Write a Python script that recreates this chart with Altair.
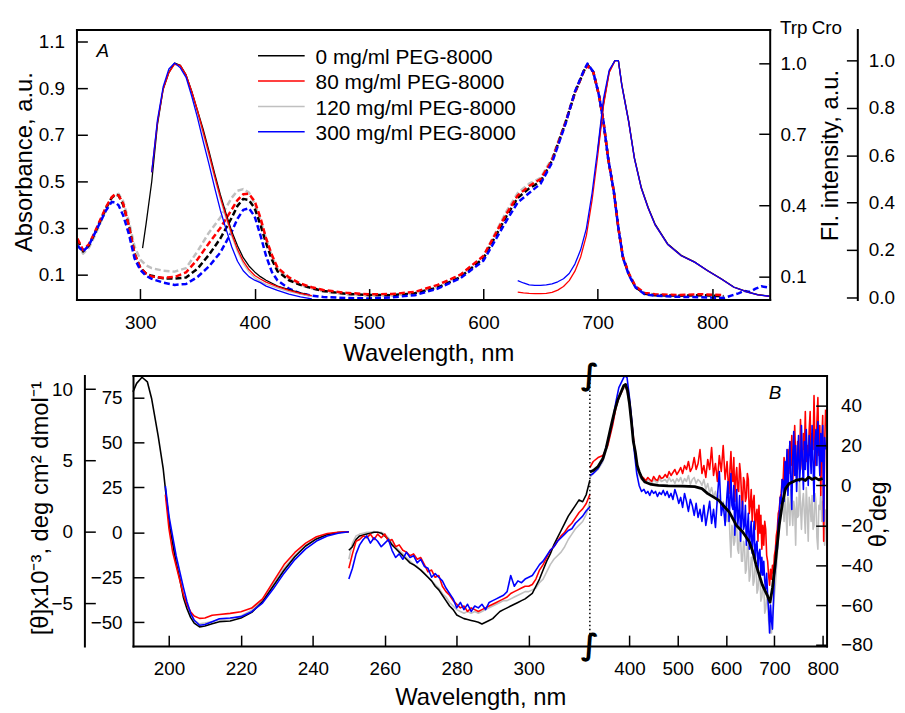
import altair as alt
import pandas as pd

W, H = 896, 704
FONT = "Liberation Sans"

SERIES = ["0 mg/ml PEG-8000", "80 mg/ml PEG-8000", "120 mg/ml PEG-8000", "300 mg/ml PEG-8000"]
COLORS = ["#000000", "#ff0000", "#c0c0c0", "#0000ff"]

# ---------------- Panel A: absorbance (dashed) ----------------
ABS_WL = [245, 250, 255, 260, 265, 270, 275, 278, 281, 285, 290, 295, 300, 305, 310, 320, 330, 340, 350, 360,
          370, 380, 385, 390, 395, 400, 405, 410, 415, 420, 430, 440, 450, 460, 480, 500, 520, 540, 560, 580,
          600, 620, 630, 640, 650, 660, 672, 680, 688, 691, 696, 701, 705, 709, 714, 718, 722, 727, 733, 741,
          750, 770, 790, 810]
ABS_BLACK = [0.25, 0.20, 0.225, 0.275, 0.33, 0.385, 0.43, 0.443, 0.44, 0.40, 0.31, 0.19, 0.13, 0.105, 0.095, 0.084, 0.083, 0.088, 0.125, 0.185,
             0.255, 0.345, 0.395, 0.425, 0.42, 0.385, 0.315, 0.235, 0.165, 0.115, 0.076, 0.056, 0.042, 0.03, 0.018, 0.013, 0.012, 0.02, 0.045, 0.09,
             0.17, 0.35, 0.43, 0.47, 0.50, 0.59, 0.755, 0.88, 0.975, 1.0, 0.97, 0.87, 0.755, 0.60, 0.457, 0.30, 0.174, 0.103, 0.046, 0.018,
             0.012, 0.01, 0.012, 0.008]
ABS_RED = [0.255, 0.205, 0.23, 0.28, 0.335, 0.39, 0.432, 0.445, 0.44, 0.405, 0.31, 0.19, 0.13, 0.105, 0.092, 0.087, 0.09, 0.11, 0.165, 0.235,
           0.30, 0.38, 0.42, 0.445, 0.447, 0.415, 0.345, 0.255, 0.185, 0.13, 0.088, 0.062, 0.046, 0.034, 0.022, 0.016, 0.017, 0.026, 0.056, 0.10,
           0.18, 0.36, 0.44, 0.48, 0.51, 0.59, 0.755, 0.88, 0.975, 0.995, 0.97, 0.87, 0.755, 0.60, 0.457, 0.30, 0.176, 0.106, 0.05, 0.022,
           0.016, 0.013, 0.016, 0.012]
ABS_GRAY = [0.23, 0.19, 0.215, 0.265, 0.32, 0.38, 0.43, 0.44, 0.447, 0.415, 0.33, 0.22, 0.165, 0.14, 0.128, 0.117, 0.113, 0.128, 0.20, 0.28,
            0.345, 0.43, 0.46, 0.467, 0.452, 0.405, 0.335, 0.255, 0.18, 0.125, 0.082, 0.056, 0.04, 0.028, 0.015, 0.01, 0.01, 0.02, 0.05, 0.10,
            0.18, 0.37, 0.45, 0.49, 0.515, 0.60, 0.76, 0.885, 0.975, 1.0, 0.97, 0.87, 0.755, 0.60, 0.457, 0.30, 0.178, 0.108, 0.05, 0.02,
            0.015, 0.01, 0.01, 0.006]
ABS_BLUE = [0.225, 0.20, 0.225, 0.275, 0.325, 0.375, 0.412, 0.41, 0.398, 0.355, 0.275, 0.17, 0.12, 0.095, 0.082, 0.066, 0.056, 0.06, 0.09, 0.135,
            0.195, 0.285, 0.34, 0.378, 0.385, 0.35, 0.27, 0.18, 0.112, 0.075, 0.04, 0.02, 0.01, 0.004, 0.0, -0.002, 0.003, 0.012, 0.04, 0.085,
            0.16, 0.33, 0.41, 0.45, 0.49, 0.58, 0.75, 0.885, 0.978, 1.005, 0.97, 0.87, 0.755, 0.60, 0.457, 0.30, 0.172, 0.10, 0.045, 0.016,
            0.01, 0.005, 0.003, 0.0]
ABS_TAIL_WL = [818, 823, 828, 833, 838, 843, 848, 850]
ABS_TAIL_BLUE = [0.012, 0.02, 0.03, 0.026, 0.04, 0.05, 0.046, 0.055]

# ---------------- Panel A: Trp emission ----------------
TRP_WL_BK = [302, 305, 310, 315, 320, 325, 330, 335, 340, 345, 350, 355, 360, 365, 370, 375, 380, 385, 390, 395,
             400, 405, 410, 420, 430, 440, 446]
TRP_BLACK = [0.22, 0.32, 0.50, 0.74, 0.89, 0.96, 1.0, 0.99, 0.95, 0.88, 0.80, 0.72, 0.63, 0.535, 0.445, 0.365, 0.29, 0.23, 0.18, 0.145,
             0.12, 0.10, 0.085, 0.06, 0.045, 0.032, 0.025]
TRP_WL = [310, 315, 320, 325, 330, 335, 340, 345, 350, 355, 360, 365, 370, 375, 380, 385, 390, 395, 400, 405,
          410, 420, 430, 440, 450]
TRP_RED = [0.54, 0.75, 0.89, 0.96, 0.995, 0.99, 0.95, 0.88, 0.80, 0.71, 0.62, 0.525, 0.435, 0.355, 0.28, 0.215, 0.165, 0.13, 0.105, 0.09,
           0.077, 0.058, 0.042, 0.03, 0.02]
TRP_GRAY = [0.54, 0.75, 0.89, 0.965, 1.0, 0.99, 0.95, 0.88, 0.79, 0.70, 0.61, 0.515, 0.425, 0.345, 0.27, 0.205, 0.155, 0.12, 0.095, 0.08,
            0.068, 0.052, 0.037, 0.026, 0.016]
TRP_BLUE = [0.54, 0.76, 0.90, 0.975, 1.0, 0.98, 0.94, 0.86, 0.77, 0.67, 0.575, 0.475, 0.38, 0.30, 0.225, 0.165, 0.125, 0.10, 0.085, 0.075,
            0.06, 0.042, 0.026, 0.015, 0.006]

# ---------------- Panel A: chromophore emission ----------------
CRO_WL = [630, 635, 640, 645, 650, 655, 660, 665, 670, 675, 680, 685, 690, 695, 700, 705, 710, 715, 718, 721,
          727, 732, 738, 744, 750, 761, 773, 785, 796, 808, 819, 831, 840, 850]
CRO_RED = [0.021, 0.018, 0.016, 0.015, 0.015, 0.016, 0.02, 0.03, 0.045, 0.07, 0.11, 0.17, 0.26, 0.41, 0.60, 0.81, 0.95, 1.0, 1.0, 0.895,
           0.741, 0.587, 0.461, 0.377, 0.307, 0.224, 0.175, 0.147, 0.112, 0.077, 0.042, 0.021, 0.01, 0.004]
CRO_BLUE = [0.07, 0.06, 0.052, 0.05, 0.05, 0.052, 0.056, 0.065, 0.078, 0.10, 0.14, 0.20, 0.29, 0.44, 0.63, 0.84, 0.96, 1.0, 1.0, 0.895,
            0.741, 0.587, 0.461, 0.377, 0.307, 0.224, 0.175, 0.147, 0.112, 0.077, 0.042, 0.021, 0.01, 0.004]
CRO_WL_BK = [700, 705, 710, 715, 718, 721, 727, 732, 738, 744, 750, 761, 773, 785, 796, 808, 819, 831, 840, 850]
CRO_BLACK = [0.62, 0.82, 0.955, 1.0, 1.0, 0.90, 0.745, 0.59, 0.465, 0.38, 0.31, 0.226, 0.177, 0.148, 0.113, 0.078, 0.043, 0.022, 0.011, 0.004]
CRO_GRAY = [0.61, 0.815, 0.95, 1.0, 1.0, 0.895, 0.74, 0.585, 0.46, 0.376, 0.306, 0.222, 0.174, 0.146, 0.111, 0.076, 0.041, 0.02, 0.01, 0.003]

# ---------------- Panel B: far-UV CD ([theta] x 10^-3) ----------------
FAR_WL_BK = [190, 191, 192.5, 194, 195.2, 197, 198.4, 199.3, 200.3, 201, 202, 203, 204, 205, 206, 207, 208.5, 210, 212, 214,
             217, 220, 223, 226, 229, 232, 235, 238, 241, 244, 247, 250]
FAR_BLACK = [9.8, 10.4, 10.83, 10.5, 9.3, 6.7, 4.4, 2.3, 0.2, -0.8, -2.2, -3.3, -4.6, -5.4, -6.0, -6.4, -6.67, -6.6, -6.45, -6.3,
             -6.25, -6.05, -5.65, -4.9, -3.8, -2.7, -1.75, -1.0, -0.5, -0.2, -0.05, 0]
FAR_WL = [199, 200, 201, 202, 203, 204, 205, 206, 207, 208.5, 210, 212, 214, 217, 220, 223, 226, 229, 232, 235,
          238, 241, 244, 247, 250]
FAR_RED = [2.6, 0.2, -1.4, -2.4, -3.4, -4.4, -5.1, -5.6, -5.9, -6.07, -6.05, -5.85, -5.8, -5.72, -5.6, -5.35, -4.7, -3.5, -2.3, -1.45,
           -0.8, -0.35, -0.12, -0.03, 0]
FAR_GRAY = [3.0, 0.9, -0.6, -2.2, -3.2, -4.4, -5.2, -5.8, -6.2, -6.45, -6.4, -6.3, -6.15, -6.1, -5.9, -5.5, -4.75, -3.65, -2.55, -1.65,
            -0.95, -0.48, -0.19, -0.05, 0]
FAR_BLUE = [3.2, 1.1, -0.3, -1.7, -2.8, -3.9, -4.9, -5.7, -6.2, -6.55, -6.5, -6.3, -6.1, -6.05, -5.95, -5.6, -5.0, -4.0, -2.9, -1.95,
            -1.2, -0.65, -0.3, -0.1, 0]

# ---------------- Panel B: near-UV CD ----------------
NEAR_WL = [250, 251, 252, 253, 254, 255, 256, 257, 258, 259, 260, 261, 262, 263, 264, 265, 266, 267, 268, 269,
           270, 271, 272, 273, 274, 275, 276, 277, 278, 279, 280, 281, 282, 283, 284, 285, 286, 287, 288, 289,
           290, 291, 292, 293, 294, 295, 296, 297, 298, 299, 300, 301, 302, 303, 304, 305, 306, 307, 308, 309,
           310, 311, 312, 313, 314, 315, 316, 317]
NEAR_BLACK = [-10, -8, -4, -2, -1.5, -1, -0.5, 0, 0, -0.5, -2, -4, -7, -9, -11, -13, -15, -17, -18, -19.5,
              -21, -23, -25, -27, -30, -32, -35, -38, -41, -43, -46, -47, -48, -48.5, -49, -49.5, -50, -51, -50, -49,
              -48, -46, -44, -43, -42, -41, -40, -39, -38, -37, -35.5, -34, -30, -26, -21, -16, -12, -7, -3, 1,
              5, 9, 12, 15, 18, 17, 21, 29]
NEAR_RED = [-20, -12, -5, -4, -2, -3, -1, -4, -1, -3, -1, -5, -4, -8, -7, -10, -11, -13, -12, -15,
            -14, -18, -22, -21, -25, -24, -30, -33, -35, -38, -40, -42, -41, -44, -42, -43, -44, -43, -42, -41,
            -40, -39, -38, -37, -36, -34, -33, -32, -31, -30, -30, -29, -26, -21, -18, -14, -10, -8, -5, -2,
            0, 3, 5, 8, 11, 13, 16, 21]
NEAR_GRAY = [-15, -6, -2, -1, -0.5, 0, 0, 0.5, 0, 0, -1, -3, -6, -8, -10, -12, -14, -16, -18, -19,
             -21, -23, -25, -27, -29, -31, -34, -36, -39, -41, -43, -44, -45, -44, -45, -44, -45, -44, -43, -42,
             -41, -40, -39, -38, -38, -37, -36, -35, -34, -33, -33, -32, -31, -28, -26, -22, -18, -15, -13, -11,
             -8, -4, -1, 2, 4, 6, 10, 17]
NEAR_BLUE = [-26, -20, -12, -7, -4, -2, -6, -3, -5, -8, -6, -4, -10, -14, -12, -15, -11, -14, -13, -17,
             -15, -19, -20, -25, -23, -25, -27, -31, -34, -37, -42, -39, -43, -40, -44, -41, -42, -40, -43, -39,
             -38, -37, -36, -35, -33, -24, -30, -27, -28, -26, -25, -24, -21, -18, -16, -13, -10, -8, -5, -3,
             -1, 1, 2, 5, 7, 9, 12, 14]

# ---------------- Panel B: visible CD (theta, deg) ----------------
VIS_WL_BK = [318, 325, 335, 345, 352, 358, 364, 370, 376, 382, 388, 392, 396, 400, 404, 408, 412, 416, 420, 426,
             432, 445, 460, 480, 510, 535, 550, 562, 575, 585, 597, 607, 617, 621, 634, 648, 655, 662, 675, 686,
             691, 696, 703, 710, 717, 723, 730, 744, 758, 764, 771, 778, 785, 792, 800]
VIS_BLACK = [6.7, 7.5, 9.5, 13.5, 19, 25.5, 32, 38, 43, 46.5, 50, 50.6, 47.5, 41, 32, 22, 17, 10, 7, 3.5,
             1.7, 0.5, 0, -0.2, -0.3, -0.6, -1.6, -4.1, -6, -7.5, -10.8, -13.5, -18, -20, -23.2, -28.2, -33, -39.8, -49.8, -55.5,
             -58.5, -51.4, -36.5, -19.9, -8.3, -1.6, 0.8, 2.5, 3.3, 2.5, 4.2, 3.0, 3.8, 2.8, 3.5]
VIS_WL = [318, 325, 335, 345, 355, 365, 372, 378, 384, 390, 395, 400, 405, 410, 415, 420, 425,
          430, 434, 438, 442, 446, 450, 454, 458, 462, 466, 470,
          474, 478, 482, 486, 490, 494, 498,
          502, 506, 510, 514, 518, 522, 526, 530, 534, 538, 542, 546,
          550, 554, 558, 562, 566, 570, 574, 578, 582, 586, 590, 594, 598,
          602, 604, 606, 608, 610, 612, 614, 616, 618, 620,
          622, 624, 626, 628, 630, 632, 634, 636, 638, 640,
          642, 644, 646, 648, 650, 652, 654, 656, 658, 660,
          662, 664, 666, 668, 670, 672, 674, 676, 678, 680,
          682, 684, 686, 688, 690, 692, 694, 696, 698, 700,
          702, 704, 706, 708, 710, 712, 714, 716, 718, 720,
          722, 724, 726, 728, 730, 732, 734, 736, 738, 740,
          742, 744, 746, 748, 750, 752, 754, 756, 758, 760,
          762, 764, 766, 768, 770, 772, 774, 776, 778, 780,
          782, 784, 786, 788, 790, 792, 794, 796, 798, 800,
          802, 804, 806]
VIS_RED = [9, 12, 14, 15, 20, 30, 39, 44, 47, 50.5, 48, 42, 31, 20, 11, 6.7, 4.5,
           3.5, 2.5, 4, 3, 2, 4.5, 3, 2.5, 5, 3.5, 4,
           5.5, 4, 7, 5, 6.5, 8, 5.5,
           7, 9, 6, 10, 8, 12, 7, 9, 14, 8, 11, 18,
           6, 10, 4, 13, 8, 19, 5, 11, 2, 15, 7, 20, 3,
           12, 3, -4, 8, 17, 5, 2, 14, -8, 4,
           9, -2, -3, 11, 6, -5, -12, 4, 2, -8,
           -6, 6, 3, -14, -10, -2, -18, -8, -5, -22,
           -15, -12, -28, -10, -24, -15, -32, -20, -30, -18,
           -22, -35, -38, -45, -50, -42, -47, -40, -44, -35,
           -32, -25, -22, -14, -12, -6, -4, 3, 2, 14,
           10, -2, 8, 18, 6, 22, 10, 25, 3, 12,
           30, 14, 4, 22, 16, 8, 33, 15, 8, 26,
           18, 37, 12, 20, 14, 28, 37, 10, 26, 18,
           45, 20, 10, 32, 44, 15, 30, -5, 22, 35,
           -28, 20, 38]
VIS_BLUE = [5, 6, 8.5, 13, 22, 32, 42, 49, 52, 55, 54, 44, 32, 17, 6, 0, -3,
            -2, -4, -3, -5, -2.5, -4, -3, -5.5, -3.5, -4.5, -2.5,
            -5, -3, -6, -4, -7, -2, -5,
            -9, -6, -11, -4, -8, -13, -7, -10, -15, -9, -16, -12,
            -18, -10, -20, -14, -8, -19, -12, -21, -6, 7, -15, -9, -20,
            -4, 2, -18, -8, 6, -10, -12, 0, -25, -12,
            -2, -20, -15, -5, -28, -16, -8, -22, -20, -10,
            -30, -22, -14, -32, -24, -18, -34, -26, -18, -38,
            -30, -28, -42, -34, -32, -45, -36, -45, -38, -48,
            -52, -44, -55, -62, -74, -60, -68, -72, -58, -45,
            -42, -30, -32, -18, -15, -6, -9, 3, 2, -8,
            12, 0, 18, -5, 8, 22, 4, -12, 15, 27,
            5, 20, -3, 14, 25, 2, 10, 30, 12, -2,
            22, 8, 28, 15, 0, 25, 18, 6, 30, 12,
            -8, 22, 28, 10, 32, 18, 5, 26, 12, 30,
            -18, 24, 18]
VIS_GRAY = [4, 6, 8, 12, 20, 31, 39, 44, 47, 49.5, 47, 40, 30, 19, 10, 5, 3,
            2.5, 1.5, 3, 2, 1, 3, 2, 1.5, 3.5, 2, 2.5,
            3, 1.5, 4, 2, 3, 1, 3.5,
            2, 4, 1, 3.5, 2, 5, 0.5, 3, 4, 1, 3, 2,
            0, 3, -2, 1, -4, -1, -6, -3, -9, -5, -12, -8, -14,
            -18, -10, -12, -26, -36, -20, -22, -30, -28, -18,
            -20, -32, -34, -22, -26, -38, -38, -28, -30, -44,
            -42, -30, -33, -48, -45, -36, -36, -50, -48, -40,
            -40, -54, -52, -44, -44, -58, -56, -50, -50, -64,
            -62, -56, -58, -68, -70, -74, -74, -65, -62, -55,
            -50, -42, -35, -28, -22, -16, -12, -10, -8, -18,
            -4, -14, -25, -6, -10, -20, -2, -12, -20, -8,
            -12, -30, -6, -16, -15, 3, -10, -22, -9, -4,
            -14, -24, -1, -12, -28, -6, -10, -18, -5, -22,
            -20, -4, -8, -26, -32, -10, -12, -3, -18, -8,
            -22, -30, -12]

# tick values
TOP_X_TICKS = [300, 400, 500, 600, 700, 800]
ABS_TICKS = [0.1, 0.3, 0.5, 0.7, 0.9, 1.1]
TRP_TICKS = [0.1, 0.4, 0.7, 1.0]
CRO_TICKS = [0.0, 0.2, 0.4, 0.6, 0.8, 1.0]
BOT_X_TICKS_NM = [200, 220, 240, 260, 280, 300, 400, 500, 600, 700, 800]
FAR_TICKS = [-5, 0, 5, 10]
NEAR_TICKS = [-50, -25, 0, 25, 50, 75]
VIS_TICKS = [-80, -60, -40, -20, 0, 20, 40]

# ---------------- scales (domain, pixel range) ----------------
TX = ([244.2, 850.3], [69, 767.7])
TABS = ([-0.0064, 1.151], [291, 19])
TTRP = ([0.0038, 1.141], [291, 19])
TCRO = ([-0.0097, 1.131], [291, 19])
BREAK_K = 0.1343
BX = ([190, 382.8], [126, 825])
BFAR = ([-8.01, 10.946], [640.3, 367.7])
BNEAR = ([-63.24, 87.14], [640.3, 367.7])
BVIS = ([-80.5, 55.07], [640.3, 367.7])
BREAK_EXPR = f"datum.wl <= 317.5 ? datum.wl : 317 + (datum.wl - 318) * {BREAK_K}"


def to_u(w):
    return w if w <= 317.5 else 317 + (w - 318) * BREAK_K


def sc(spec):
    d, r = spec
    return alt.Scale(domain=d, range=r, nice=False, zero=False)


def line(wl, vals, xs, ys, color, width, dash=None, brk=False):
    df = pd.DataFrame({"wl": wl, "v": vals})
    ch = alt.Chart(df)
    xf = "wl"
    if brk:
        ch = ch.transform_calculate(u=BREAK_EXPR)
        xf = "u"
    mk = dict(color=color, strokeWidth=width, strokeJoin="round")
    if dash:
        mk["strokeDash"] = dash
    return ch.mark_line(**mk).encode(
        x=alt.X(f"{xf}:Q", scale=sc(xs), axis=None),
        y=alt.Y("v:Q", scale=sc(ys), axis=None),
    )


def axis_layer(channel, vals, spec, axis):
    df = pd.DataFrame({"t": vals})
    if channel == "x":
        enc = {"x": alt.X("t:Q", scale=sc(spec), axis=axis)}
    else:
        enc = {"y": alt.Y("t:Q", scale=sc(spec), axis=axis)}
    return alt.Chart(df).mark_point(opacity=0, size=1).encode(**enc)


def tick_axis(orient, offset, vals):
    return alt.Axis(orient=orient, offset=offset, values=vals, labels=False, ticks=True,
                    tickSize=11, tickWidth=1.5, domain=True, domainWidth=2, title=None,
                    grid=False, zindex=1)


def frame_axis(orient, offset, vals):
    return alt.Axis(orient=orient, offset=offset, values=vals, labels=False, ticks=False,
                    domain=True, domainWidth=2, title=None, grid=False, zindex=1)


def label_axis(orient, offset, vals, pad, fmt=None, title=None, tx=0, ty=0, angle=0, expr=None):
    kw = dict(orient=orient, offset=offset, values=vals, labels=True, ticks=False, tickSize=0,
              domain=False, labelPadding=pad, grid=False, labelFlush=False, labelOverlap=False)
    if fmt:
        kw["format"] = fmt
    if expr:
        kw["labelExpr"] = expr
    if title:
        kw.update(title=title, titleX=tx, titleY=ty, titleAngle=angle,
                  titleBaseline="alphabetic", titleAlign="center")
    else:
        kw["title"] = None
    return alt.Axis(**kw)


layers = []

# ---- Panel A axes ----
layers.append(axis_layer("x", TOP_X_TICKS, TX, tick_axis("top", -291, TOP_X_TICKS)))
layers.append(axis_layer("x", TOP_X_TICKS, TX, frame_axis("top", -19, TOP_X_TICKS)))
layers.append(axis_layer("x", TOP_X_TICKS, TX, label_axis("bottom", 291 - H, TOP_X_TICKS, 14, "d",
                                                          "Wavelength, nm", 423.7, 61.5, 0)))
layers.append(axis_layer("y", ABS_TICKS, TABS, tick_axis("right", 69 - W, ABS_TICKS)))
layers.append(axis_layer("y", ABS_TICKS, TABS, label_axis("left", -69, ABS_TICKS, 12, ".1f",
                                                          "Absorbance, a.u.", -45.5, 152, 270)))
layers.append(axis_layer("y", TRP_TICKS, TTRP, tick_axis("left", -767.7, TRP_TICKS)))
layers.append(axis_layer("y", TRP_TICKS, TTRP, label_axis("right", 767.7 - W, TRP_TICKS, 10.3, ".1f",
                                                          "Fl. intensity, a.u.", 68.5, 145.5, 270)))
layers.append(axis_layer("y", CRO_TICKS, TCRO, tick_axis("left", -856, CRO_TICKS)))
layers.append(axis_layer("y", CRO_TICKS, TCRO, label_axis("right", 856 - W, CRO_TICKS, 11, ".1f")))

# ---- Panel B axes ----
BOT_U = [to_u(v) for v in BOT_X_TICKS_NM]
LABEL_EXPR = (f"datum.value < 317 ? format(datum.value, 'd') : "
              f"format(round((318 + (datum.value - 317) / {BREAK_K}) / 100) * 100, 'd')")
layers.append(axis_layer("x", BOT_U, BX, tick_axis("top", -640.3, BOT_U)))
layers.append(axis_layer("x", BOT_U, BX, frame_axis("top", -367.7, BOT_U)))
layers.append(axis_layer("x", BOT_U, BX, label_axis("bottom", 640.3 - H, BOT_U, 14, None,
                                                    "Wavelength, nm", 476, 58.9, 0, LABEL_EXPR)))
layers.append(axis_layer("y", NEAR_TICKS, BNEAR, tick_axis("right", 126 - W, NEAR_TICKS)))
layers.append(axis_layer("y", NEAR_TICKS, BNEAR, label_axis("left", -126, NEAR_TICKS, 11, "d")))
layers.append(axis_layer("y", FAR_TICKS, BFAR, tick_axis("right", 77 - W, FAR_TICKS)))
layers.append(axis_layer("y", FAR_TICKS, BFAR, label_axis("left", -77, FAR_TICKS, 12, "d",
                                                          "[θ]x10⁻³, deg cm² dmol⁻¹", -37.5, 501, 270)))
layers.append(axis_layer("y", VIS_TICKS, BVIS, tick_axis("left", -825, VIS_TICKS)))
layers.append(axis_layer("y", VIS_TICKS, BVIS, label_axis("right", 825 - W, VIS_TICKS, 14, "d",
                                                          "θ, deg", 59.5, 507, 270)))

# ---- Panel A data ----
DASH = [6, 3]
layers.append(line(ABS_WL, ABS_GRAY, TX, TABS, COLORS[2], 2.5, DASH))
layers.append(line(ABS_WL, ABS_BLACK, TX, TABS, COLORS[0], 2.5, DASH))
layers.append(line(ABS_WL, ABS_RED, TX, TABS, COLORS[1], 2.5, DASH))
layers.append(line(ABS_WL + ABS_TAIL_WL, ABS_BLUE + ABS_TAIL_BLUE, TX, TABS, COLORS[3], 2.5, DASH))

layers.append(line(TRP_WL, TRP_GRAY, TX, TTRP, COLORS[2], 1.3))
layers.append(line(TRP_WL_BK, TRP_BLACK, TX, TTRP, COLORS[0], 1.3))
layers.append(line(TRP_WL, TRP_RED, TX, TTRP, COLORS[1], 1.3))
layers.append(line(TRP_WL, TRP_BLUE, TX, TTRP, COLORS[3], 1.3))

layers.append(line(CRO_WL_BK, CRO_GRAY, TX, TCRO, COLORS[2], 1.3))
layers.append(line(CRO_WL_BK, CRO_BLACK, TX, TCRO, COLORS[0], 1.3))
layers.append(line(CRO_WL, CRO_RED, TX, TCRO, COLORS[1], 1.3))
layers.append(line(CRO_WL, CRO_BLUE, TX, TCRO, COLORS[3], 1.3))

# ---- Panel B data ----
layers.append(line(FAR_WL, FAR_GRAY, BX, BFAR, COLORS[2], 1.6, brk=True))
layers.append(line(FAR_WL_BK, FAR_BLACK, BX, BFAR, COLORS[0], 1.6, brk=True))
layers.append(line(FAR_WL, FAR_RED, BX, BFAR, COLORS[1], 1.6, brk=True))
layers.append(line(FAR_WL, FAR_BLUE, BX, BFAR, COLORS[3], 1.6, brk=True))

layers.append(line(NEAR_WL, NEAR_GRAY, BX, BNEAR, COLORS[2], 1.6, brk=True))
layers.append(line(NEAR_WL, NEAR_BLACK, BX, BNEAR, COLORS[0], 1.6, brk=True))
layers.append(line(NEAR_WL, NEAR_RED, BX, BNEAR, COLORS[1], 1.6, brk=True))
layers.append(line(NEAR_WL, NEAR_BLUE, BX, BNEAR, COLORS[3], 1.6, brk=True))

layers.append(line(VIS_WL, VIS_GRAY, BX, BVIS, COLORS[2], 1.6, brk=True))
layers.append(line(VIS_WL, VIS_RED, BX, BVIS, COLORS[1], 1.6, brk=True))
layers.append(line(VIS_WL, VIS_BLUE, BX, BVIS, COLORS[3], 1.6, brk=True))
layers.append(line(VIS_WL_BK, VIS_BLACK, BX, BVIS, COLORS[0], 2.8, brk=True))

# ---- axis break: dotted line + break marks ----
brk_df = pd.DataFrame({"u": [317.0], "lo": [BVIS[0][0]], "hi": [BVIS[0][1]]})
layers.append(alt.Chart(brk_df).mark_rule(color="black", strokeWidth=1.5, strokeDash=[1.5, 2.5]).encode(
    x=alt.X("u:Q", scale=sc(BX), axis=None),
    y=alt.Y("lo:Q", scale=sc(BVIS), axis=None),
    y2="hi:Q",
))
brk_marks = pd.DataFrame({"u": [317.0, 317.0], "v": [BVIS[0][1], BVIS[0][0]]})
layers.append(alt.Chart(brk_marks).mark_text(text="∫", fontSize=30, font="DejaVu Sans", fontWeight="bold",
                                             color="black", align="center", baseline="middle").encode(
    x=alt.X("u:Q", scale=sc(BX), axis=None),
    y=alt.Y("v:Q", scale=sc(BVIS), axis=None),
))

# ---- legend ----
leg = pd.DataFrame({"row": [0, 1, 2, 3], "label": SERIES, "col": COLORS})
ROW = ([0, 3], [45.3, 122])
layers.append(alt.Chart(leg).mark_rule(strokeWidth=1.5).encode(
    x=alt.value(252), x2=alt.value(299),
    y=alt.Y("row:Q", scale=sc(ROW), axis=None),
    color=alt.Color("col:N", scale=None),
))
layers.append(alt.Chart(leg).mark_text(align="left", baseline="alphabetic", font=FONT, fontSize=21,
                                       dy=8.5, color="black").encode(
    x=alt.value(310),
    y=alt.Y("row:Q", scale=sc(ROW), axis=None),
    text="label:N",
))

# ---- text annotations ----
one = pd.DataFrame({"k": [0]})


def note(txt, x, y, size=19, italic=False, align="center"):
    kw = dict(text=txt, font=FONT, fontSize=size, color="black", align=align, baseline="alphabetic")
    if italic:
        kw["fontStyle"] = "italic"
    return alt.Chart(one).mark_text(**kw).encode(x=alt.value(x), y=alt.value(y))


layers.append(note("A", 95.5, 47, italic=True))
layers.append(note("B", 773, 391.5, italic=True))
layers.append(note("Trp", 778, 23.7, align="left"))
layers.append(note("Cro", 810, 23.7, align="left"))

chart = alt.layer(*layers).resolve_scale(x="independent", y="independent").properties(
    width=W, height=H, padding=0, autosize=alt.AutoSizeParams(type="none"),
).configure_view(stroke=None).configure_axis(
    labelFont=FONT, titleFont=FONT, labelFontSize=19, titleFontSize=24, titleFontWeight="normal",
    labelColor="black", titleColor="black", domainColor="black", tickColor="black",
    grid=False, domainCap="square",
)

chart.save("out.html", embed_options={"renderer": "svg", "actions": False})
